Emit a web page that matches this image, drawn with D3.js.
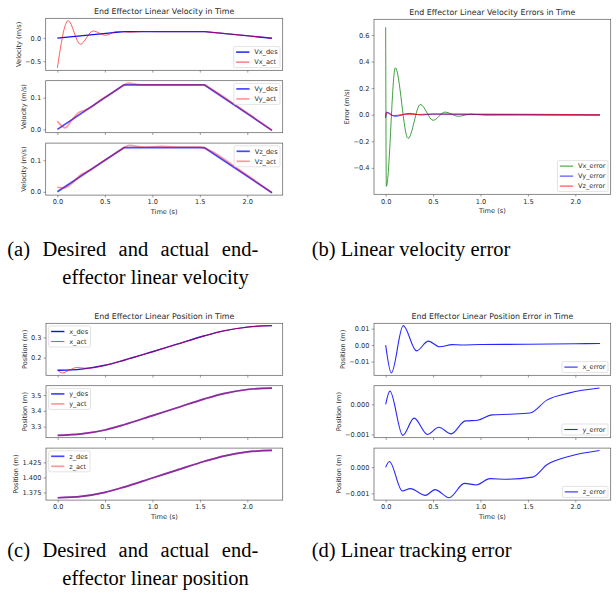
<!DOCTYPE html>
<html><head><meta charset="utf-8">
<script src="https://cdn.jsdelivr.net/npm/d3@7"></script>
<style>html,body{margin:0;padding:0;background:#fff;} svg{display:block}</style>
</head><body>
<svg id="fig" width="616" height="596"></svg>
<script>
// ================= DATA =================
const TIME_TICKS = [0, 0.5, 1.0, 1.5, 2.0];
const TIME_TICK_LABELS = ["0.0", "0.5", "1.0", "1.5", "2.0"];
const X_LIMITS = [-0.123, 2.373];

// (a) desired / actual linear velocity
const T_V_DES = [0, 0.70, 1.55, 2.26];
const VX_DES = [0, 0.14, 0.14, -0.002];
const VY_DES = [0, 0.14, 0.14, -0.003];
const VZ_DES = [0, 0.14, 0.14, -0.003];
const T_VX_ACT = [0, 0.113, 0.241, 0.376, 0.505, 0.627, 0.764, 0.9, 1.05, 1.55, 1.6, 1.9, 2.26];
const VX_ACT = [-0.645, 0.377, -0.132, 0.155, 0.06, 0.145, 0.128, 0.144, 0.14, 0.14, 0.131, 0.072, -0.002];
const T_VY_ACT = [0, 0.08, 0.15, 0.22, 0.30, 0.37, 0.45, 0.55, 0.65, 0.75, 0.85, 1.0, 1.55, 1.6, 1.9, 2.26];
const VY_ACT = [0.026, 0.005, 0.028, 0.052, 0.062, 0.073, 0.092, 0.11, 0.13, 0.146, 0.141, 0.14, 0.14, 0.131, 0.072, -0.003];
const T_VZ_ACT = [0, 0.07, 0.15, 0.25, 0.35, 0.45, 0.55, 0.65, 0.76, 0.9, 1.1, 1.3, 1.5, 1.6, 1.9, 2.26];
const VZ_ACT = [0.015, 0.012, 0.026, 0.055, 0.07, 0.091, 0.11, 0.13, 0.147, 0.142, 0.144, 0.142, 0.142, 0.132, 0.073, -0.003];
const A_Y_TICKS = [[-0.5, 0.0], [0.0, 0.1], [0.0, 0.1]];
const A_Y_TICK_LABELS = [["\u22120.5", "0.0"], ["0.0", "0.1"], ["0.0", "0.1"]];

// (b) linear velocity errors
const T_VX_ERR = [0, 0.007, 0.102, 0.236, 0.366, 0.5, 0.627, 0.764, 0.9, 1.05, 1.4, 1.8, 2.26];
const VX_ERR = [0.658, -0.539, 0.353, -0.179, 0.077, -0.042, 0.02, -0.012, 0.004, -0.004, -0.003, -0.004, -0.004];
const T_VY_ERR = [0, 0.008, 0.1, 0.25, 0.38, 0.5, 0.7, 1.0, 1.5, 2.26];
const VY_ERR = [-0.025, 0.02, -0.012, 0.01, -0.002, 0.004, 0.003, 0.002, 0.001, -0.001];
const T_VZ_ERR = [0, 0.008, 0.08, 0.2, 0.35, 0.5, 0.8, 1.2, 1.6, 2.0, 2.26];
const VZ_ERR = [-0.015, 0.015, -0.008, 0.003, 0.002, 0.006, 0.005, 0.004, 0.003, 0.001, -0.001];
const B_Y_TICKS = [-0.4, -0.2, 0.0, 0.2, 0.4, 0.6];
const B_Y_TICK_LABELS = ["\u22120.4", "\u22120.2", "0.0", "0.2", "0.4", "0.6"];

// (c) desired / actual linear position
const T_POS = [0, 0.25, 0.5, 0.7, 1.0, 1.25, 1.55, 1.75, 2.0, 2.26];
const X_DES = [0.137, 0.143, 0.162, 0.187, 0.229, 0.265, 0.308, 0.332, 0.351, 0.358];
const T_X_ACT = [0, 0.05, 0.12, 0.2, 0.3, 0.4, 0.5, 0.7, 1.0, 1.25, 1.55, 1.75, 2.0, 2.26];
const X_ACT = [0.137, 0.124, 0.137, 0.151, 0.147, 0.152, 0.162, 0.187, 0.229, 0.265, 0.308, 0.332, 0.351, 0.358];
const Y_DES = [3.245, 3.254, 3.279, 3.312, 3.370, 3.418, 3.476, 3.509, 3.535, 3.544];
const Y_ACT = [3.245, 3.254, 3.279, 3.312, 3.370, 3.418, 3.476, 3.509, 3.535, 3.544];
const Z_DES = [1.3662, 1.3685, 1.3752, 1.3839, 1.3991, 1.4117, 1.4269, 1.4355, 1.4424, 1.4448];
const Z_ACT = [1.3662, 1.3685, 1.3752, 1.3839, 1.3991, 1.4117, 1.4269, 1.4355, 1.4424, 1.4448];
const C_Y_TICKS = [[0.2, 0.3], [3.3, 3.4, 3.5], [1.375, 1.400, 1.425]];
const C_Y_TICK_LABELS = [["0.2", "0.3"], ["3.3", "3.4", "3.5"], ["1.375", "1.400", "1.425"]];

// (d) linear position tracking errors
const T_X_ERR = [0, 0.06, 0.185, 0.325, 0.45, 0.57, 0.7, 0.8, 1.0, 1.5, 2.0, 2.26];
const X_ERR = [0, -0.0169, 0.0118, -0.0035, 0.0024, -0.001, 0.0003, 0.0001, 0.0004, 0.0005, 0.0008, 0.001];
const T_Y_ERR = [0, 0.045, 0.18, 0.30, 0.44, 0.56, 0.69, 0.84, 0.97, 1.12, 1.31, 1.52, 1.70, 1.94, 2.255];
const Y_ERR = [0, 0.00044, -0.00103, -0.00046, -0.001, -0.00076, -0.00098, -0.00055, -0.00053, -0.00035, -0.00033, -0.00029, 0.00014, 0.00038, 0.00054];
const T_Z_ERR = [0, 0.04, 0.175, 0.26, 0.42, 0.52, 0.67, 0.83, 0.955, 1.10, 1.28, 1.55, 1.70, 1.94, 2.255];
const Z_ERR = [0, 0.00022, -0.00091, -0.00082, -0.00108, -0.00086, -0.00117, -0.00062, -0.00068, -0.00044, -0.00046, -0.00038, 0.00009, 0.00042, 0.00064];
const D_Y_TICKS = [[-0.01, 0.0, 0.01], [-0.001, 0.0], [-0.001, 0.0]];
const D_Y_TICK_LABELS = [["\u22120.01", "0.00", "0.01"], ["\u22120.001", "0.000"], ["\u22120.001", "0.000"]];

const TITLES = ["End Effector Linear Velocity in Time", "End Effector Linear Velocity Errors in Time",
                "End Effector Linear Position in Time", "End Effector Linear Position Error in Time"];
const CAPTIONS = {
  a: [["(a)", "Desired", "and", "actual", "end-"], "effector linear velocity"],
  b: "(b) Linear velocity error",
  c: [["(c)", "Desired", "and", "actual", "end-"], "effector linear position"],
  d: "(d) Linear tracking error"
};

// ================= STYLE / LAYOUT =================
const FONT = "'DejaVu Sans', sans-serif";
const SERIF = "'Liberation Serif', 'Times New Roman', serif";
const TICK_FS = 6.6, TITLE_FS = 7.9, LEG_FS = 6.6;
const TICK_LEN = 2.3, TICK_PAD = 2.3;
const TEXT_COL = "#2b2b2b", FRAME_COL = "#5a5a5a";
const BLUE = "#0000ff", RED = "#ff0000", GREEN = "#008000";

const svg = d3.select("#fig");
let clipId = 0;

const zip = (t, v) => t.map((d, i) => [d, v[i]]);

const S_DES1 = {color: BLUE, width: 1.4, opacity: 0.95, curve: d3.curveLinear};
const S_ACT1 = {color: RED, width: 0.9, opacity: 0.7, curve: d3.curveMonotoneX};
const S_DES2 = {color: BLUE, width: 1.7, opacity: 0.72, curve: d3.curveLinear};
const S_ACT2 = {color: RED, width: 1.7, opacity: 0.4, curve: d3.curveMonotoneX};

function panel(cfg) {
  const {left, right, top, bottom} = cfg;
  const x = d3.scaleLinear().domain(X_LIMITS).range([left, right]);
  const allV = cfg.series.flatMap(s => s.data.map(d => d[1]));
  const lo = d3.min(allV), hi = d3.max(allV), pad = (hi - lo) * 0.05;
  const y = d3.scaleLinear().domain([lo - pad, hi + pad]).range([bottom, top]);

  const g = svg.append("g");
  const id = "clip" + (clipId++);
  g.append("clipPath").attr("id", id).append("rect")
    .attr("x", left).attr("y", top).attr("width", right - left).attr("height", bottom - top);

  const lines = g.append("g").attr("clip-path", `url(#${id})`);
  cfg.series.forEach(s => {
    const line = d3.line().x(d => x(d[0])).y(d => y(d[1])).curve(s.style.curve);
    lines.append("path").attr("d", line(s.data)).attr("fill", "none")
      .style("stroke", s.style.color).style("stroke-width", s.style.width)
      .style("stroke-opacity", s.style.opacity).attr("stroke-linejoin", "round");
  });

  // x axis
  const xa = g.append("g").attr("transform", `translate(0,${bottom})`)
    .call(d3.axisBottom(x).tickValues(TIME_TICKS).tickSize(TICK_LEN).tickPadding(TICK_PAD)
      .tickFormat((d, i) => cfg.xLabels ? TIME_TICK_LABELS[i] : ""));
  // y axis
  const ya = g.append("g").attr("transform", `translate(${left},0)`)
    .call(d3.axisLeft(y).tickValues(cfg.yTicks).tickSize(TICK_LEN).tickPadding(TICK_PAD)
      .tickFormat((d, i) => cfg.yTickLabels[i]));
  [xa, ya].forEach(a => {
    a.select(".domain").remove();
    a.selectAll("line").attr("stroke", FRAME_COL).attr("stroke-width", 0.6);
    a.selectAll("text").attr("font-family", FONT).attr("font-size", TICK_FS).attr("fill", TEXT_COL);
  });

  // frame
  g.append("rect").attr("x", left).attr("y", top).attr("width", right - left).attr("height", bottom - top)
    .attr("fill", "none").attr("stroke", FRAME_COL).attr("stroke-width", 0.7);

  // y label
  let minX = left;
  ya.selectAll("text").each(function () { const b = this.getBBox(); minX = Math.min(minX, left + b.x); });
  const lx = minX - 4.2, ly = (top + bottom) / 2;
  g.append("text").attr("transform", `translate(${lx},${ly}) rotate(-90)`).attr("text-anchor", "middle")
    .attr("font-family", FONT).attr("font-size", TICK_FS).attr("fill", TEXT_COL).text(cfg.ylabel);

  if (cfg.xlabel) {
    g.append("text").attr("x", (left + right) / 2).attr("y", bottom + 19).attr("text-anchor", "middle")
      .attr("font-family", FONT).attr("font-size", TICK_FS).attr("fill", TEXT_COL).text(cfg.xlabel);
  }
  if (cfg.title) {
    g.append("text").attr("x", (left + right) / 2).attr("y", top - 4).attr("text-anchor", "middle")
      .attr("font-family", FONT).attr("font-size", TITLE_FS).attr("fill", TEXT_COL).text(cfg.title);
  }

  // legend
  const items = cfg.series.filter(s => s.label);
  const lg = g.append("g");
  const box = lg.append("rect");
  const handles = items.map(s => lg.append("line"));
  const texts = items.map(s => lg.append("text").attr("font-family", FONT).attr("font-size", LEG_FS)
    .attr("fill", TEXT_COL).text(s.label));
  const tw = d3.max(texts, t => t.node().getComputedTextLength());
  const bw = 2.4 + 13.3 + 4.8 + tw + 2.4, bh = 10 * items.length + 1;
  const PADA = 2.7;
  const bx = cfg.legend.includes("right") ? right - PADA - bw : left + PADA;
  const by = cfg.legend.includes("lower") ? bottom - PADA - bh : top + PADA;
  box.attr("x", bx).attr("y", by).attr("width", bw).attr("height", bh).attr("rx", 1.3)
    .attr("fill", "#fff").attr("fill-opacity", 0.8).attr("stroke", "#d0d0d0").attr("stroke-width", 0.6);
  items.forEach((s, i) => {
    const cy = by + 5.5 + 10 * i;
    handles[i].attr("x1", bx + 2.4).attr("x2", bx + 15.7).attr("y1", cy).attr("y2", cy)
      .style("stroke", s.style.color).style("stroke-width", Math.max(s.style.width, 1.1))
      .style("stroke-opacity", s.style.opacity);
    texts[i].attr("x", bx + 20.5).attr("y", cy + 2.3);
  });
}

// ---------- (a) ----------
const A = {left: 45.7, right: 282.7, tops: [18.3, 80.7, 143.1], h: 52};
const aSeries = [
  [{data: zip(T_V_DES, VX_DES), style: S_DES1, label: "Vx_des"}, {data: zip(T_VX_ACT, VX_ACT), style: S_ACT1, label: "Vx_act"}],
  [{data: zip(T_V_DES, VY_DES), style: S_DES2, label: "Vy_des"}, {data: zip(T_VY_ACT, VY_ACT), style: S_ACT2, label: "Vy_act"}],
  [{data: zip(T_V_DES, VZ_DES), style: S_DES2, label: "Vz_des"}, {data: zip(T_VZ_ACT, VZ_ACT), style: S_ACT2, label: "Vz_act"}]
];
aSeries.forEach((ser, i) => panel({
  left: A.left, right: A.right, top: A.tops[i], bottom: A.tops[i] + A.h, series: ser,
  yTicks: A_Y_TICKS[i], yTickLabels: A_Y_TICK_LABELS[i], xLabels: i === 2,
  ylabel: "Velocity (m/s)", xlabel: i === 2 ? "Time (s)" : null, title: i === 0 ? TITLES[0] : null,
  legend: i === 0 ? "lower right" : "upper right"
}));

// ---------- (b) ----------
const S_ERR = c => ({color: c, width: 1.0, opacity: 0.75, curve: d3.curveMonotoneX});
panel({
  left: 374, right: 610.7, top: 19.3, bottom: 194.3,
  series: [{data: zip(T_VX_ERR, VX_ERR), style: S_ERR(GREEN), label: "Vx_error"},
           {data: zip(T_VY_ERR, VY_ERR), style: S_ERR(BLUE), label: "Vy_error"},
           {data: zip(T_VZ_ERR, VZ_ERR), style: S_ERR(RED), label: "Vz_error"}],
  yTicks: B_Y_TICKS, yTickLabels: B_Y_TICK_LABELS, xLabels: true,
  ylabel: "Error (m/s)", xlabel: "Time (s)", title: TITLES[1], legend: "lower right"
});

// ---------- (c) ----------
const C = {left: 46, right: 282.7, tops: [323.3, 385.7, 448.1], h: 52};
const S_PDES1 = {color: BLUE, width: 1.4, opacity: 0.95, curve: d3.curveMonotoneX};
const S_PDES2 = {color: BLUE, width: 1.7, opacity: 0.72, curve: d3.curveMonotoneX};
const cSeries = [
  [{data: zip(T_POS, X_DES), style: S_PDES1, label: "x_des"}, {data: zip(T_X_ACT, X_ACT), style: S_ACT1, label: "x_act"}],
  [{data: zip(T_POS, Y_DES), style: S_PDES2, label: "y_des"}, {data: zip(T_POS, Y_ACT), style: S_ACT2, label: "y_act"}],
  [{data: zip(T_POS, Z_DES), style: S_PDES2, label: "z_des"}, {data: zip(T_POS, Z_ACT), style: S_ACT2, label: "z_act"}]
];
cSeries.forEach((ser, i) => panel({
  left: C.left, right: C.right, top: C.tops[i], bottom: C.tops[i] + C.h, series: ser,
  yTicks: C_Y_TICKS[i], yTickLabels: C_Y_TICK_LABELS[i], xLabels: i === 2,
  ylabel: "Position (m)", xlabel: i === 2 ? "Time (s)" : null, title: i === 0 ? TITLES[2] : null,
  legend: "upper left"
}));

// ---------- (d) ----------
const D = {left: 374, right: 610.7, tops: [323.3, 385.7, 448.1], h: 52};
const S_PERR = {color: BLUE, width: 1.1, opacity: 0.85, curve: d3.curveMonotoneX};
const dSeries = [
  [{data: zip(T_X_ERR, X_ERR), style: S_PERR, label: "x_error"}],
  [{data: zip(T_Y_ERR, Y_ERR), style: S_PERR, label: "y_error"}],
  [{data: zip(T_Z_ERR, Z_ERR), style: S_PERR, label: "z_error"}]
];
dSeries.forEach((ser, i) => panel({
  left: D.left, right: D.right, top: D.tops[i], bottom: D.tops[i] + D.h, series: ser,
  yTicks: D_Y_TICKS[i], yTickLabels: D_Y_TICK_LABELS[i], xLabels: i === 2,
  ylabel: "Position (m)", xlabel: i === 2 ? "Time (s)" : null, title: i === 0 ? TITLES[3] : null,
  legend: "lower right"
}));

// ---------- captions ----------
const CAP_FS = 20.5;
function capText(x, y, s, anchor) {
  return svg.append("text").attr("x", x).attr("y", y).attr("text-anchor", anchor || "start")
    .attr("font-family", SERIF).attr("font-size", CAP_FS).attr("fill", "#000").text(s);
}
function justified(words, x0, x1, y) {
  const els = words.map(w => capText(0, y, w));
  const widths = els.map(e => e.node().getComputedTextLength());
  const gap = (x1 - x0 - d3.sum(widths)) / (words.length - 1);
  let x = x0;
  els.forEach((e, i) => { e.attr("x", x); x += widths[i] + gap; });
}
justified(CAPTIONS.a[0], 7.3, 258.3, 256);
capText(155.5, 283.5, CAPTIONS.a[1], "middle");
capText(311.7, 256, CAPTIONS.b);
justified(CAPTIONS.c[0], 7.3, 258.3, 556.5);
capText(155.5, 585, CAPTIONS.c[1], "middle");
capText(311.7, 556.5, CAPTIONS.d);
</script></body></html>
